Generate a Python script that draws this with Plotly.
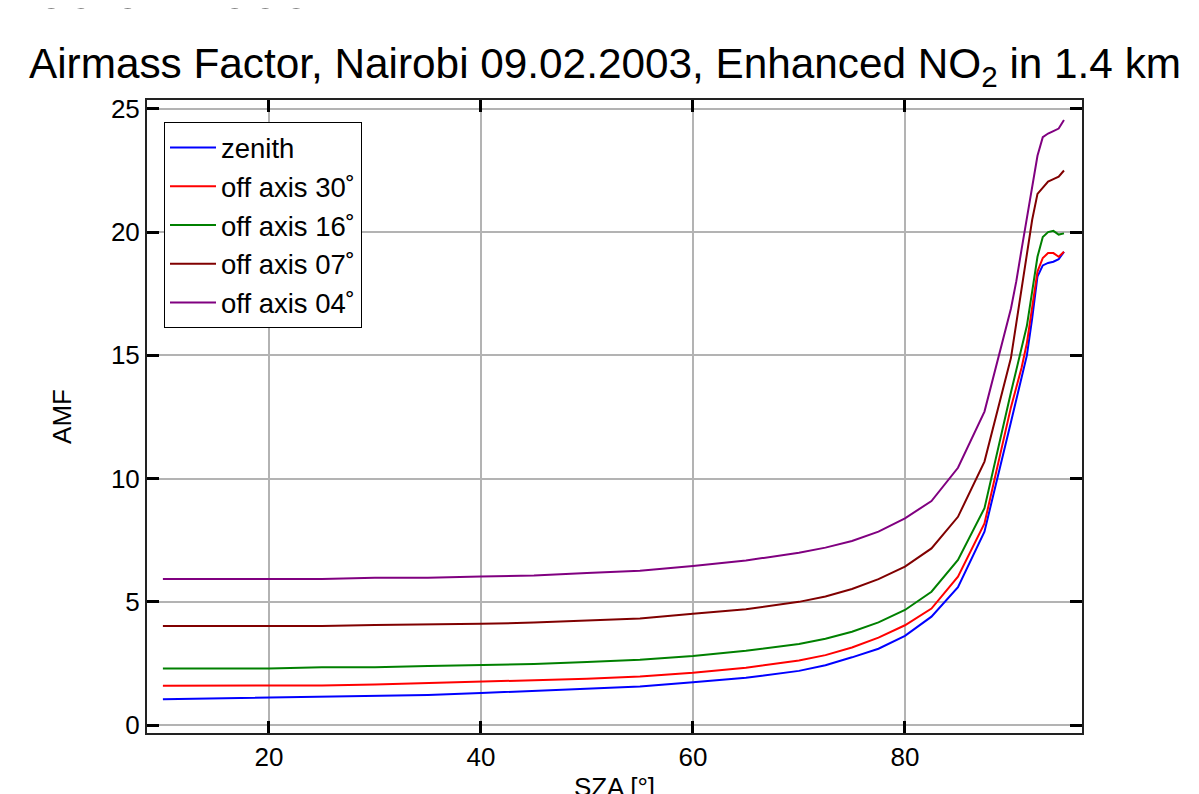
import plotly.graph_objects as go

sza = [10, 15, 20, 25, 30, 35, 40, 45, 50, 55, 60, 65, 70, 72.5, 75, 77.5, 80, 82.5, 85, 87.5,
       90, 90.5, 91, 91.5, 92, 92.5, 93, 93.5, 94, 94.5, 95]

amf_zenith = [1.05, 1.08, 1.10, 1.13, 1.17, 1.22, 1.30, 1.38, 1.47, 1.57, 1.74, 1.92, 2.20, 2.43, 2.75, 3.10, 3.62, 4.40, 5.60, 7.85,
              12.3, 13.2, 14.1, 15.0, 16.5, 18.2, 18.65, 18.75, 18.8, 18.9, 19.2]
amf_off30 = [1.60, 1.60, 1.60, 1.61, 1.65, 1.70, 1.75, 1.80, 1.88, 1.97, 2.12, 2.33, 2.62, 2.84, 3.15, 3.55, 4.05, 4.73, 6.02, 8.18,
             12.9, 13.7, 14.5, 15.5, 16.9, 18.4, 18.95, 19.15, 19.15, 19.0, 19.2]
amf_off16 = [2.30, 2.30, 2.30, 2.35, 2.35, 2.40, 2.43, 2.48, 2.56, 2.65, 2.80, 3.02, 3.29, 3.50, 3.79, 4.17, 4.67, 5.41, 6.70, 8.80,
             13.5, 14.4, 15.2, 16.2, 17.6, 19.0, 19.8, 20.0, 20.05, 19.9, 19.95]
amf_off07 = [4.02, 4.02, 4.02, 4.02, 4.06, 4.07, 4.11, 4.16, 4.25, 4.33, 4.52, 4.70, 5.00, 5.22, 5.52, 5.92, 6.43, 7.17, 8.45, 10.69,
             14.9, 16.3, 17.6, 19.0, 20.5, 21.55, 21.8, 22.05, 22.15, 22.25, 22.5]
amf_off04 = [5.93, 5.93, 5.93, 5.93, 5.98, 5.98, 6.03, 6.07, 6.17, 6.26, 6.45, 6.68, 6.99, 7.20, 7.47, 7.85, 8.39, 9.09, 10.44, 12.72,
             16.9, 18.0, 19.3, 20.6, 21.9, 23.1, 23.85, 24.0, 24.1, 24.2, 24.55]

series_names = ["zenith", "off axis 30˚", "off axis 16˚", "off axis 07˚", "off axis 04˚"]
series_values = [amf_zenith, amf_off30, amf_off16, amf_off07, amf_off04]
series_colors = ["#0000ff", "#ff0000", "#008000", "#800000", "#800080"]

x_ticks = [20, 40, 60, 80]
y_ticks = [0, 5, 10, 15, 20, 25]

FONT = "Liberation Sans, Arial, Helvetica, sans-serif"

fig = go.Figure()
for name, vals, col in zip(series_names, series_values, series_colors):
    fig.add_trace(go.Scatter(x=sza, y=vals, mode="lines", name=name,
                             line=dict(color=col, width=2)))

axis_common = dict(
    showline=True, linecolor="#222222", linewidth=2, mirror="ticks",
    ticks="inside", ticklen=12, tickwidth=3, tickcolor="black",
    showgrid=True, gridcolor="#b3b3b3", gridwidth=2, zeroline=False,
    tickfont=dict(family=FONT, size=26, color="black"),
)

fig.update_layout(
    width=1199, height=794,
    margin=dict(l=139, r=125, t=92, b=69, autoexpand=False),
    paper_bgcolor="white", plot_bgcolor="white",
    font=dict(family=FONT, color="black"),
    title=dict(text="Airmass Factor, Nairobi 09.02.2003, Enhanced NO<sub>2</sub> in 1.4 km",
               x=21 / 1199, xanchor="left", y=1 - 70 / 794, yanchor="bottom",
               font=dict(family=FONT, size=42.3, color="black")),
    xaxis=dict(range=[8.5, 96.7], tickvals=x_ticks,
               title=dict(text="SZA [°]", font=dict(family=FONT, size=26), standoff=22),
               **axis_common),
    yaxis=dict(range=[-0.32, 25.36], tickvals=y_ticks,
               title=dict(text="AMF", font=dict(family=FONT, size=26), standoff=32),
               **axis_common),
    legend=dict(x=17 / 935, y=1 - 22 / 633, xanchor="left", yanchor="top",
                bgcolor="white", bordercolor="black", borderwidth=1,
                itemwidth=46,
                font=dict(family=FONT, size=27.5, color="black")),
    showlegend=True,
)

fig.add_annotation(text="09.02.2003", xref="paper", yref="paper",
                   x=-113 / 935, xanchor="left", y=1 + 111 / 633, yanchor="middle",
                   showarrow=False, font=dict(family=FONT, size=55, color="black"))

fig.write_html("out.html")
